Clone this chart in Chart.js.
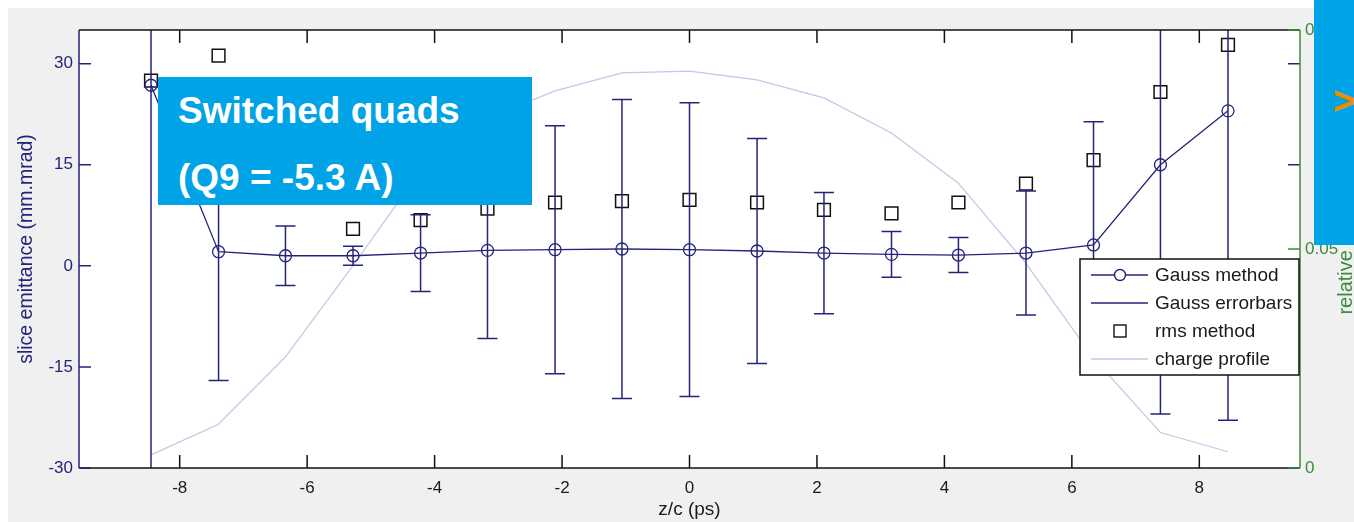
<!DOCTYPE html>
<html>
<head>
<meta charset="utf-8">
<script src="https://cdn.jsdelivr.net/npm/chart.js@4.4.1/dist/chart.umd.min.js"></script>
<style>
  html, body { margin: 0; padding: 0; background: #fff; }
  #wrap { position: relative; width: 1354px; height: 522px; overflow: hidden; }
  #wrap canvas { position: absolute; left: 0; top: 0; }
  .note { position: absolute; background: #00a3e6; color: #fff; font-family: "Liberation Sans", Arial, sans-serif; font-weight: bold; }
  #quads { left: 158px; top: 77px; width: 374px; height: 128px; font-size: 37px; line-height: 37px; }
  #quads span { position: absolute; left: 20px; white-space: nowrap; }
  #side { left: 1314px; top: 0; width: 40px; height: 245px; }
  #side span { position: absolute; left: 19px; top: 82px; color: #f08c00; font-size: 38px; line-height: 38px; }
</style>
</head>
<body>
<div id="wrap">
  <canvas id="myChart" width="1354" height="522"></canvas>
  <div class="note" id="quads"><span style="top:15px">Switched quads</span><span style="top:82px">(Q9 = -5.3 A)</span></div>
  <div class="note" id="side"><span>&gt;</span></div>
</div>
<script>
// data
const zPs = [-8.45, -7.39, -6.34, -5.28, -4.22, -3.17, -2.11, -1.06, 0, 1.06, 2.11, 3.17, 4.22, 5.28, 6.34, 7.39, 8.45];
const gaussEmit = [26.8, 2.1, 1.5, 1.5, 1.9, 2.3, 2.4, 2.5, 2.4, 2.2, 1.9, 1.7, 1.6, 1.9, 3.1, 15.0, 23.0];
const gaussErr = [60, 19.1, 4.4, 1.4, 5.7, 13.1, 18.4, 22.2, 21.8, 16.7, 9.0, 3.4, 2.6, 9.2, 18.3, 37, 45.9];
const rmsEmit = [27.5, 31.2, null, 5.5, 6.8, 8.5, 9.4, 9.6, 9.8, 9.4, 8.3, 7.8, 9.4, 12.2, 15.7, 25.8, 32.8];
const chargeProfile = [0.0030, 0.0100, 0.0254, 0.0462, 0.0679, 0.0798, 0.0861, 0.0902, 0.0906, 0.0886, 0.0845, 0.0765, 0.0650, 0.0467, 0.0251, 0.0081, 0.0037];

const xTicks = [-8, -6, -4, -2, 0, 2, 4, 6, 8];
const yTicks = [-30, -15, 0, 15, 30];
const y2Ticks = [0, 0.05, 0.1];
const legendLabels = ['Gauss method', 'Gauss errorbars', 'rms method', 'charge profile'];

const NAVY = '#24247a';
const GREEN = '#3d8c3d';
const LAVENDER = '#c6c6e4';
const FONT = '"Liberation Sans", Arial, sans-serif';

// background, error bars, box, inner ticks, legend
const matlabLook = {
    id: 'matlabLook',
    beforeDraw(chart) {
        const {ctx, chartArea: a, width, height} = chart;
        ctx.save();
        ctx.fillStyle = '#fff';
        ctx.fillRect(0, 0, width, height);
        ctx.fillStyle = '#f0f0f0';
        ctx.fillRect(8, 8, width - 8, height - 8);
        ctx.fillStyle = '#fff';
        ctx.fillRect(a.left, a.top, a.right - a.left, a.bottom - a.top);
        ctx.restore();
    },
    afterDatasetsDraw(chart) {
        const {ctx, chartArea: a, scales: {x, y}} = chart;
        ctx.save();
        ctx.beginPath();
        ctx.rect(a.left, a.top, a.right - a.left, a.bottom - a.top);
        ctx.clip();
        ctx.strokeStyle = NAVY;
        ctx.lineWidth = 1.5;
        zPs.forEach((z, i) => {
            const px = x.getPixelForValue(z);
            const lo = y.getPixelForValue(gaussEmit[i] - gaussErr[i]);
            const hi = y.getPixelForValue(gaussEmit[i] + gaussErr[i]);
            ctx.beginPath();
            ctx.moveTo(px, lo); ctx.lineTo(px, hi);
            ctx.moveTo(px - 10, lo); ctx.lineTo(px + 10, lo);
            ctx.moveTo(px - 10, hi); ctx.lineTo(px + 10, hi);
            ctx.stroke();
        });
        ctx.restore();
    },
    afterDraw(chart) {
        const {ctx, chartArea: a, scales: {x, y, y2}} = chart;
        ctx.save();
        ctx.lineWidth = 1.5;

        // x ticks, top and bottom, pointing inward
        ctx.strokeStyle = '#111';
        ctx.beginPath();
        xTicks.forEach(v => {
            const px = x.getPixelForValue(v);
            ctx.moveTo(px, a.bottom); ctx.lineTo(px, a.bottom - 13);
            ctx.moveTo(px, a.top); ctx.lineTo(px, a.top + 13);
        });
        ctx.moveTo(a.left, a.top); ctx.lineTo(a.right, a.top);
        ctx.moveTo(a.left, a.bottom); ctx.lineTo(a.right, a.bottom);
        ctx.stroke();

        // left axis ticks (mirrored on the right side)
        ctx.strokeStyle = NAVY;
        ctx.beginPath();
        yTicks.forEach(v => {
            const py = y.getPixelForValue(v);
            ctx.moveTo(a.left, py); ctx.lineTo(a.left + 12, py);
            ctx.moveTo(a.right, py); ctx.lineTo(a.right - 12, py);
        });
        ctx.moveTo(a.left, a.top); ctx.lineTo(a.left, a.bottom);
        ctx.stroke();

        // right axis
        ctx.strokeStyle = GREEN;
        ctx.beginPath();
        y2Ticks.forEach(v => {
            const py = y2.getPixelForValue(v);
            ctx.moveTo(a.right, py); ctx.lineTo(a.right - 12, py);
        });
        ctx.moveTo(a.right, a.top); ctx.lineTo(a.right, a.bottom);
        ctx.stroke();

        // right axis title, reads bottom to top
        ctx.save();
        ctx.translate(1346, (a.top + a.bottom) / 2);
        ctx.rotate(-Math.PI / 2);
        ctx.fillStyle = GREEN;
        ctx.font = '20px ' + FONT;
        ctx.textAlign = 'center';
        ctx.textBaseline = 'middle';
        ctx.fillText('relative charge', 0, 0);
        ctx.restore();

        // legend box
        const lx = 1080, ly = 259, lw = a.right - 1 - lx, lh = 116;
        ctx.fillStyle = '#fff';
        ctx.fillRect(lx, ly, lw, lh);
        ctx.strokeStyle = '#111';
        ctx.strokeRect(lx, ly, lw, lh);
        ctx.font = '19px ' + FONT;
        ctx.textBaseline = 'middle';
        ctx.textAlign = 'left';
        legendLabels.forEach((label, i) => {
            const ry = ly + 16 + i * 28;
            ctx.lineWidth = 1.4;
            if (i === 0 || i === 1) {
                ctx.strokeStyle = NAVY;
                ctx.beginPath(); ctx.moveTo(lx + 11, ry); ctx.lineTo(lx + 68, ry); ctx.stroke();
            }
            if (i === 0) {
                ctx.beginPath(); ctx.arc(lx + 40, ry, 5.5, 0, Math.PI * 2);
                ctx.fillStyle = '#fff'; ctx.fill(); ctx.stroke();
            }
            if (i === 2) {
                ctx.strokeStyle = '#111';
                ctx.strokeRect(lx + 34, ry - 6, 12, 12);
            }
            if (i === 3) {
                ctx.strokeStyle = LAVENDER;
                ctx.beginPath(); ctx.moveTo(lx + 11, ry); ctx.lineTo(lx + 68, ry); ctx.stroke();
            }
            ctx.fillStyle = '#1a1a1a';
            ctx.fillText(label, lx + 75, ry + 1);
        });
        ctx.restore();
    }
};

const config = {
    type: 'line',
    data: {
        datasets: [
            {
                label: legendLabels[0],
                data: zPs.map((z, i) => ({x: z, y: gaussEmit[i]})),
                yAxisID: 'y',
                borderColor: NAVY,
                borderWidth: 1.3,
                pointStyle: 'circle',
                pointRadius: 6,
                pointBorderWidth: 1.3,
                pointBorderColor: NAVY,
                pointBackgroundColor: 'transparent',
            },
            {
                label: legendLabels[2],
                data: zPs.map((z, i) => ({x: z, y: rmsEmit[i]})),
                yAxisID: 'y',
                showLine: false,
                pointStyle: 'rect',
                pointRadius: 9,
                pointBorderWidth: 1.5,
                pointBorderColor: '#111',
                pointBackgroundColor: 'transparent',
            },
            {
                label: legendLabels[3],
                data: zPs.map((z, i) => ({x: z, y: chargeProfile[i]})),
                yAxisID: 'y2',
                borderColor: LAVENDER,
                borderWidth: 1.2,
                pointRadius: 0,
            },
        ],
    },
    options: {
        responsive: false,
        animation: false,
        layout: {padding: {top: 30, left: 0, right: 0, bottom: 0}},
        plugins: {
            legend: {display: false},
            tooltip: {enabled: false},
        },
        scales: {
            x: {
                type: 'linear',
                min: -9.58,
                max: 9.58,
                afterBuildTicks: s => { s.ticks = xTicks.map(v => ({value: v})); },
                afterFit: s => { s.height = 54; },
                grid: {display: false, drawTicks: false},
                border: {display: false},
                ticks: {color: '#1a1a1a', padding: 10, font: {family: FONT, size: 17}, callback: v => String(v)},
                title: {display: true, text: 'z/c (ps)', color: '#1a1a1a', font: {family: FONT, size: 19}, padding: {top: 0, bottom: 1}},
            },
            y: {
                position: 'left',
                min: -30,
                max: 35,
                afterBuildTicks: s => { s.ticks = yTicks.map(v => ({value: v})); },
                afterFit: s => { s.width = 79; },
                grid: {display: false, drawTicks: false},
                border: {display: false},
                ticks: {color: NAVY, padding: 6, font: {family: FONT, size: 17}, callback: v => String(v)},
                title: {display: true, text: 'slice emittance (mm.mrad)', color: NAVY, font: {family: FONT, size: 19.5}, padding: {top: 15, bottom: 0}},
            },
            y2: {
                position: 'right',
                min: 0,
                max: 0.1,
                afterBuildTicks: s => { s.ticks = y2Ticks.map(v => ({value: v})); },
                afterFit: s => { s.width = 54; },
                grid: {display: false, drawTicks: false},
                border: {display: false},
                ticks: {color: GREEN, padding: 5, font: {family: FONT, size: 17}, callback: v => String(v)},
            },
        },
    },
    plugins: [matlabLook],
};

const myChart = new Chart(document.getElementById('myChart'), config);
</script>
</body>
</html>
